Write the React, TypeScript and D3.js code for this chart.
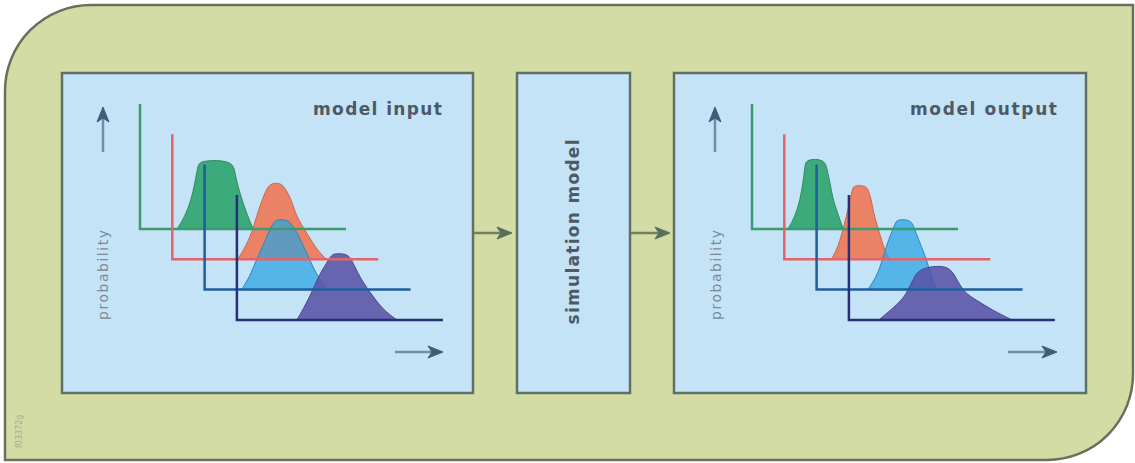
import * as React from 'react';
import * as d3 from 'd3';

// panel titles and labels
const panelTitles = ['model input', 'model output'];
const middleTitle = 'simulation model';
const yLabel = 'probability';
const figCode = 'f03372g';

// colours per layer: green, red, blue, navy
const fillColors = ['#35a673', '#ef7a58', '#2ba3e2', '#5a53a6'];
const fillOpacity = [0.95, 0.92, 0.72, 0.88];
const axisColors = ['#3a9a72', '#e06468', '#1f5e9e', '#252f78'];

// distributions: [value, probability], value axis 0..10, probability 0..1
const inputGreen: [number, number][] = [
  [1.8, 0], [2.18, 0.1], [2.48, 0.23], [2.67, 0.37], [2.8, 0.5], [2.91, 0.55],
  [4.47, 0.55], [4.6, 0.46], [4.71, 0.37], [4.95, 0.23], [5.24, 0.1], [5.49, 0],
];
const inputRed: [number, number][] = [
  [3.16, 0], [3.5, 0.08], [3.88, 0.22], [4.08, 0.34], [4.37, 0.48], [4.6, 0.57],
  [4.81, 0.61], [5.29, 0.61], [5.5, 0.56], [5.78, 0.48], [6.02, 0.34], [6.5, 0.22],
  [6.99, 0.08], [7.48, 0],
];
const inputBlue: [number, number][] = [
  [1.8, 0], [2.18, 0.1], [2.52, 0.24], [2.91, 0.38], [3.16, 0.48], [3.35, 0.54],
  [3.54, 0.56], [4.03, 0.56], [4.35, 0.5], [4.71, 0.38], [5.1, 0.24], [5.49, 0.1],
  [5.97, 0],
];
const inputNavy: [number, number][] = [
  [2.91, 0], [3.2, 0.08], [3.64, 0.22], [3.93, 0.34], [4.37, 0.46], [4.6, 0.52],
  [4.76, 0.53], [5.39, 0.53], [5.63, 0.46], [5.97, 0.34], [6.46, 0.22], [7.09, 0.08],
  [7.77, 0],
];

const outputGreen: [number, number][] = [
  [1.75, 0], [2.09, 0.1], [2.33, 0.23], [2.48, 0.37], [2.57, 0.5], [2.62, 0.56],
  [3.54, 0.56], [3.65, 0.47], [3.79, 0.37], [3.93, 0.23], [4.22, 0.1], [4.42, 0],
];
const outputRed: [number, number][] = [
  [2.28, 0], [2.57, 0.08], [2.82, 0.22], [3.01, 0.34], [3.2, 0.48], [3.32, 0.57],
  [3.4, 0.59], [3.98, 0.59], [4.1, 0.54], [4.22, 0.48], [4.37, 0.34], [4.61, 0.22],
  [4.85, 0.08], [5.1, 0],
];
const outputBlue: [number, number][] = [
  [2.48, 0], [2.91, 0.1], [3.2, 0.24], [3.45, 0.38], [3.69, 0.48], [3.85, 0.54],
  [3.93, 0.56], [4.61, 0.56], [4.76, 0.48], [5.0, 0.38], [5.34, 0.24], [5.58, 0.1],
  [5.83, 0],
];
const outputNavy: [number, number][] = [
  [1.46, 0], [2.04, 0.08], [2.57, 0.16], [2.82, 0.22], [3.16, 0.34], [3.4, 0.4],
  [4.03, 0.43], [4.85, 0.43], [5.19, 0.34], [5.58, 0.22], [6.17, 0.16], [6.94, 0.08],
  [7.91, 0],
];

const panelData = [
  [inputGreen, inputRed, inputBlue, inputNavy],
  [outputGreen, outputRed, outputBlue, outputNavy],
];

const W = 1135;
const H = 463;

// layout
const boxes = [
  { x: 62, y: 73, w: 411, h: 320 },
  { x: 517, y: 73, w: 113, h: 320 },
  { x: 674, y: 73, w: 412, h: 320 },
];
const panelLeft = [140, 752];
const baseY = 229;
const step = { x: 32.3, y: 30.3 };
const titleRight = [442, 1057];
const titleLength = [129, 147];
const labelX = [108, 721];
const upArrowX = [103, 715];
const rightArrow = [[395, 443], [1008, 1057]];

function upArrow(x: number, y0: number, y1: number) {
  return <g>
    <line x1={x} x2={x} y1={y0} y2={y1 + 10} stroke="#6f8ea6" strokeWidth={2.5} />
    <path d={`M${x},${y1} L${x + 6},${y1 + 15} L${x},${y1 + 11} L${x - 6},${y1 + 15} Z`}
      fill="#3f5d78" stroke="#3f5d78" strokeWidth={1} strokeLinejoin="round" />
  </g>;
}

function rightArrowMark(x0: number, x1: number, y: number, line: string, head: string) {
  return <g>
    <line x1={x0} x2={x1 - 10} y1={y} y2={y} stroke={line} strokeWidth={2.5} />
    <path d={`M${x1},${y} L${x1 - 15},${y - 6} L${x1 - 11},${y} L${x1 - 15},${y + 6} Z`}
      fill={head} stroke={head} strokeWidth={1} strokeLinejoin="round" />
  </g>;
}

export default function App() {
  const x = d3.scaleLinear().domain([0, 10]).range([0, 206]);
  const y = d3.scaleLinear().domain([0, 1]).range([0, -125]);
  const area = d3.area<[number, number]>()
    .x((d) => x(d[0]))
    .y0(y(0))
    .y1((d) => y(d[1]))
    .curve(d3.curveBasis);

  const r = 86;
  const frame = `M5,460 L5,${5 + r} A${r},${r} 0 0 1 ${5 + r},5 L1133,5 L1133,${460 - r} ` +
    `A${r},${r} 0 0 1 ${1133 - r},460 Z`;

  return <svg width={W} height={H} style={{ position: 'absolute', left: 0, top: 0, background: '#fff' }}>
    <path d={frame} fill="#d2dca4" stroke="#67705a" strokeWidth={2.5} />
    <text transform="translate(22,448) rotate(-90)" fontFamily="DejaVu Sans" fontSize={8}
      fill="#a3ad90">{figCode}</text>

    {boxes.map((b, i) => <rect key={i} x={b.x} y={b.y} width={b.w} height={b.h}
      fill="#c5e3f6" stroke="#5f7064" strokeWidth={2.5} />)}

    {rightArrowMark(474, 512, 233, '#71805f', '#5a6d5c')}
    {rightArrowMark(631, 670, 233, '#71805f', '#5a6d5c')}

    <text transform={`translate(579,232) rotate(-90)`} textAnchor="middle"
      fontFamily="DejaVu Sans" fontWeight="bold" fontSize={17} fill="#4e5966"
      textLength={185} lengthAdjust="spacing">{middleTitle}</text>

    {panelData.map((series, p) => <g key={p}>
      <text x={titleRight[p] - titleLength[p]} y={115} fontFamily="DejaVu Sans" fontWeight="bold"
        fontSize={17} fill="#4e5966" textLength={titleLength[p]}
        lengthAdjust="spacing">{panelTitles[p]}</text>
      <text transform={`translate(${labelX[p]},275) rotate(-90)`} textAnchor="middle"
        fontFamily="DejaVu Sans" fontSize={14} fill="#7a8b97" textLength={90}
        lengthAdjust="spacing">{yLabel}</text>
      {upArrow(upArrowX[p], 152, 107)}
      {rightArrowMark(rightArrow[p][0], rightArrow[p][1], 352, '#6f8ea6', '#3f5d78')}
      {series.map((d, i) => <g key={i}
        transform={`translate(${panelLeft[p] + i * step.x},${baseY + i * step.y})`}>
        <path d={area(d) || ''} fill={fillColors[i]} fillOpacity={fillOpacity[i]}
          stroke={d3.color(fillColors[i])!.darker(0.5).toString()} strokeWidth={1} />
      </g>)}
      {series.map((_, i) => <g key={'a' + i}
        transform={`translate(${panelLeft[p] + i * step.x},${baseY + i * step.y})`}>
        <path d={`M0,${y(1)} L0,${y(0)} L${x(10)},${y(0)}`} fill="none"
          stroke={axisColors[i]} strokeWidth={2.5} />
      </g>)}
    </g>)}
  </svg>;
}
